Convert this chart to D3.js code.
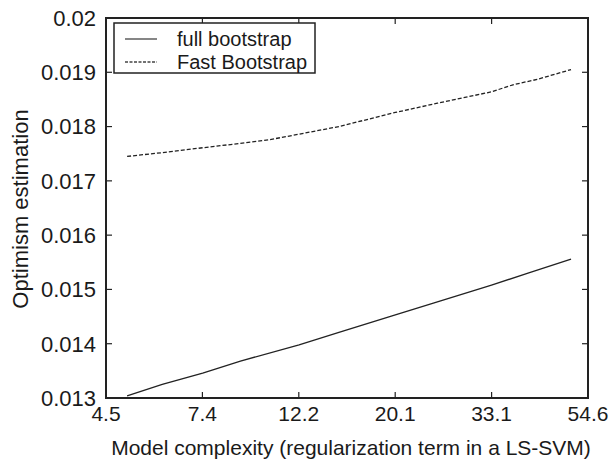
<!DOCTYPE html>
<html>
<head>
<meta charset="utf-8">
<script src="https://cdn.jsdelivr.net/npm/d3@7"></script>
<style>
  body { margin: 0; background: #fff; }
  svg { display: block; }
  text { font-family: "Liberation Sans", Arial, Helvetica, sans-serif; fill: #1a1a1a; }
</style>
</head>
<body>
<div id="chart"></div>
<script>
(function () {
  'use strict';

  // x ticks are e^1.5 ... e^4 on a log axis
  var xTickValues = [4.4817, 7.3891, 12.1825, 20.0855, 33.1155, 54.5982];
  var xTickLabels = ['4.5', '7.4', '12.2', '20.1', '33.1', '54.6'];
  var yTickValues = [0.013, 0.014, 0.015, 0.016, 0.017, 0.018, 0.019, 0.02];
  var yTickLabels = ['0.013', '0.014', '0.015', '0.016', '0.017', '0.018', '0.019', '0.02'];

  var fullX = [5, 6, 7.4, 9, 12.2, 15, 20.1, 25, 33.1, 40, 50];
  var fullY = [0.01304, 0.01325, 0.01346, 0.01368, 0.01398, 0.01421, 0.01453, 0.01477, 0.01508, 0.01530, 0.01556];

  var fastX = [5, 6, 7.4, 9, 10.5, 12.2, 15, 20.1, 25, 33.1, 37, 42, 50];
  var fastY = [0.01745, 0.01752, 0.01761, 0.01769, 0.01776, 0.01786, 0.01800, 0.01826, 0.01843, 0.01864, 0.01877, 0.01887, 0.01905];

  var seriesNames = ['full bootstrap', 'Fast Bootstrap'];

  var width = 611, height = 465;
  var margin = { top: 18, right: 23, bottom: 67, left: 106 };
  var innerW = width - margin.left - margin.right;
  var innerH = height - margin.top - margin.bottom;

  var svg = d3.select('#chart').append('svg')
    .attr('width', width).attr('height', height);

  var g = svg.append('g').attr('transform', 'translate(' + margin.left + ',' + margin.top + ')');

  var x = d3.scaleLog().domain([xTickValues[0], xTickValues[xTickValues.length - 1]]).range([0, innerW]);
  var y = d3.scaleLinear().domain([0.013, 0.02]).range([innerH, 0]);

  var tickFont = 21;
  var tick = 6;

  // inward ticks on all four sides
  xTickValues.forEach(function (v, i) {
    var px = x(v);
    g.append('line').attr('x1', px).attr('x2', px).attr('y1', innerH).attr('y2', innerH - tick)
      .attr('stroke', '#222').attr('stroke-width', 1.2);
    g.append('line').attr('x1', px).attr('x2', px).attr('y1', 0).attr('y2', tick)
      .attr('stroke', '#222').attr('stroke-width', 1.2);
    g.append('text').attr('x', px).attr('y', innerH + 23)
      .attr('text-anchor', 'middle').attr('font-size', tickFont)
      .text(xTickLabels[i]);
  });

  yTickValues.forEach(function (v, i) {
    var py = y(v);
    g.append('line').attr('x1', 0).attr('x2', tick).attr('y1', py).attr('y2', py)
      .attr('stroke', '#222').attr('stroke-width', 1.2);
    g.append('line').attr('x1', innerW).attr('x2', innerW - tick).attr('y1', py).attr('y2', py)
      .attr('stroke', '#222').attr('stroke-width', 1.2);
    g.append('text').attr('x', -10).attr('y', py).attr('dy', '0.36em')
      .attr('text-anchor', 'end').attr('font-size', 22)
      .text(yTickLabels[i]);
  });

  g.append('rect').attr('x', 0).attr('y', 0).attr('width', innerW).attr('height', innerH)
    .attr('fill', 'none').attr('stroke', '#222').attr('stroke-width', 2);

  var line = d3.line()
    .x(function (d) { return x(d[0]); })
    .y(function (d) { return y(d[1]); });

  var fullData = fullX.map(function (v, i) { return [v, fullY[i]]; });
  var fastData = fastX.map(function (v, i) { return [v, fastY[i]]; });

  g.append('path').datum(fullData).attr('d', line)
    .attr('fill', 'none').attr('stroke', '#222').attr('stroke-width', 1.3);
  g.append('path').datum(fastData).attr('d', line)
    .attr('fill', 'none').attr('stroke', '#222').attr('stroke-width', 1.3)
    .attr('stroke-dasharray', '4,2');

  // legend
  var lg = g.append('g').attr('transform', 'translate(8,5)');
  lg.append('rect').attr('width', 201).attr('height', 50)
    .attr('fill', '#fff').attr('stroke', '#222').attr('stroke-width', 1.5);
  seriesNames.forEach(function (name, i) {
    var ly = 16 + i * 23;
    lg.append('line').attr('x1', 11).attr('x2', 43).attr('y1', ly).attr('y2', ly)
      .attr('stroke', '#444').attr('stroke-width', 1.3)
      .attr('stroke-dasharray', i === 1 ? '3,1.5' : null);
    lg.append('text').attr('x', 63).attr('y', ly).attr('dy', '0.36em')
      .attr('font-size', 20).text(name);
  });

  svg.append('text')
    .attr('x', margin.left + innerW / 2 + 4).attr('y', height - 10)
    .attr('text-anchor', 'middle').attr('font-size', 21)
    .text('Model complexity (regularization term in a LS-SVM)');

  svg.append('text')
    .attr('transform', 'translate(28,' + (margin.top + innerH / 2 + 1) + ') rotate(-90)')
    .attr('text-anchor', 'middle').attr('font-size', 22)
    .text('Optimism estimation');
})();
</script>
</body>
</html>
